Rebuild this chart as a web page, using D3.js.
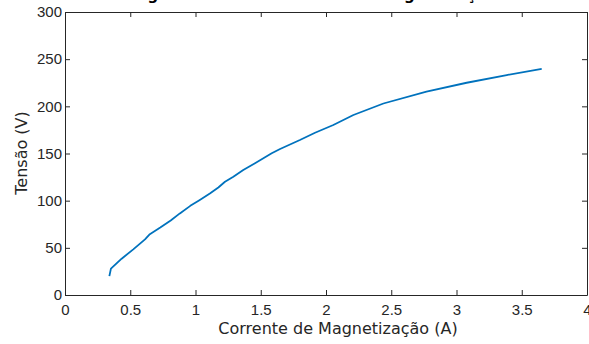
<!DOCTYPE html>
<html lang="en">
<head>
<meta charset="UTF-8">
<title>Curva de Magnetização</title>
<style>
    body { margin: 0; background: #fff; }
    svg { display: block; font-family: "DejaVu Sans", Verdana, sans-serif; }
    .axis text { font-size: 15px; fill: #262626; }
    .axis path, .axis line { stroke: #262626; }
</style>
</head>
<body>
<div id="chart"></div>
<script src="https://d3js.org/d3.v7.min.js"></script>
<script>
    // corrente de magnetização (A) e tensão (V)
    const corrente = [0.34, 0.352, 0.434, 0.523, 0.613, 0.65, 0.73, 0.81, 0.88, 0.96, 1.03,
        1.11, 1.175, 1.226, 1.29, 1.366, 1.456, 1.584, 1.648, 1.8, 1.916, 2.056, 2.21, 2.44, 2.77,
        3.078, 3.385, 3.653];
    const tensao = [20, 27.9, 38.5, 48.4, 59, 64.5, 71.5, 79, 86.5, 94.5, 100.5,
        107.5, 114, 120, 125.4, 132.5, 139.6, 150.2, 154.8, 164.3, 172, 180.2, 190.8, 203, 215.5,
        225, 233.2, 239.6];
    const xTicks = [0, 0.5, 1, 1.5, 2, 2.5, 3, 3.5, 4];
    const yTicks = [0, 50, 100, 150, 200, 250, 300];

    const W = 589, H = 344;
    const margin = {top: 12, right: 2, bottom: 49, left: 65};
    const width = W - margin.left - margin.right,
          height = H - margin.top - margin.bottom;

    const svg = d3.select("#chart").append("svg")
        .attr("width", W)
        .attr("height", H);

    const g = svg.append("g")
        .attr("transform", "translate(" + margin.left + "," + margin.top + ")");

    const x = d3.scaleLinear().domain([0, 4]).range([0, width]);
    const y = d3.scaleLinear().domain([0, 300]).range([height, 0]);

    const fmt = d => d3.format("")(d);

    g.append("g").attr("class", "axis")
        .attr("transform", "translate(0," + height + ")")
        .call(d3.axisBottom(x).tickValues(xTicks).tickFormat(fmt).tickSizeInner(-5).tickSizeOuter(0).tickPadding(9));
    g.append("g").attr("class", "axis")
        .call(d3.axisTop(x).tickValues(xTicks).tickFormat("").tickSizeInner(-5).tickSizeOuter(0));
    g.append("g").attr("class", "axis")
        .call(d3.axisLeft(y).tickValues(yTicks).tickFormat(fmt).tickSizeInner(-5).tickSizeOuter(0).tickPadding(3));
    g.append("g").attr("class", "axis")
        .attr("transform", "translate(" + width + ",0)")
        .call(d3.axisRight(y).tickValues(yTicks).tickFormat("").tickSizeInner(-5).tickSizeOuter(0));

    const pts = corrente.map((c, i) => [c, tensao[i]]);
    g.append("path")
        .datum(pts)
        .attr("fill", "none")
        .attr("stroke", "#0072BD")
        .attr("stroke-width", 1.8)
        .attr("stroke-linejoin", "round")
        .attr("d", d3.line().x(d => x(d[0])).y(d => y(d[1])));

    // titulo quase fora da janela
    svg.append("text")
        .attr("x", 290)
        .attr("y", -0.5)
        .attr("text-anchor", "middle")
        .style("font-size", "15px")
        .style("font-weight", "bold")
        .attr("fill", "#000")
        .text("Tensão gerada versus Corrente de Magnetização");

    svg.append("text")
        .attr("x", 338)
        .attr("y", 334)
        .attr("text-anchor", "middle")
        .style("font-size", "16px")
        .attr("fill", "#262626")
        .text("Corrente de Magnetização (A)");

    svg.append("text")
        .attr("transform", "translate(27," + 153 + ") rotate(-90)")
        .attr("text-anchor", "middle")
        .style("font-size", "16px")
        .attr("fill", "#262626")
        .text("Tensão (V)");
</script>
</body>
</html>
